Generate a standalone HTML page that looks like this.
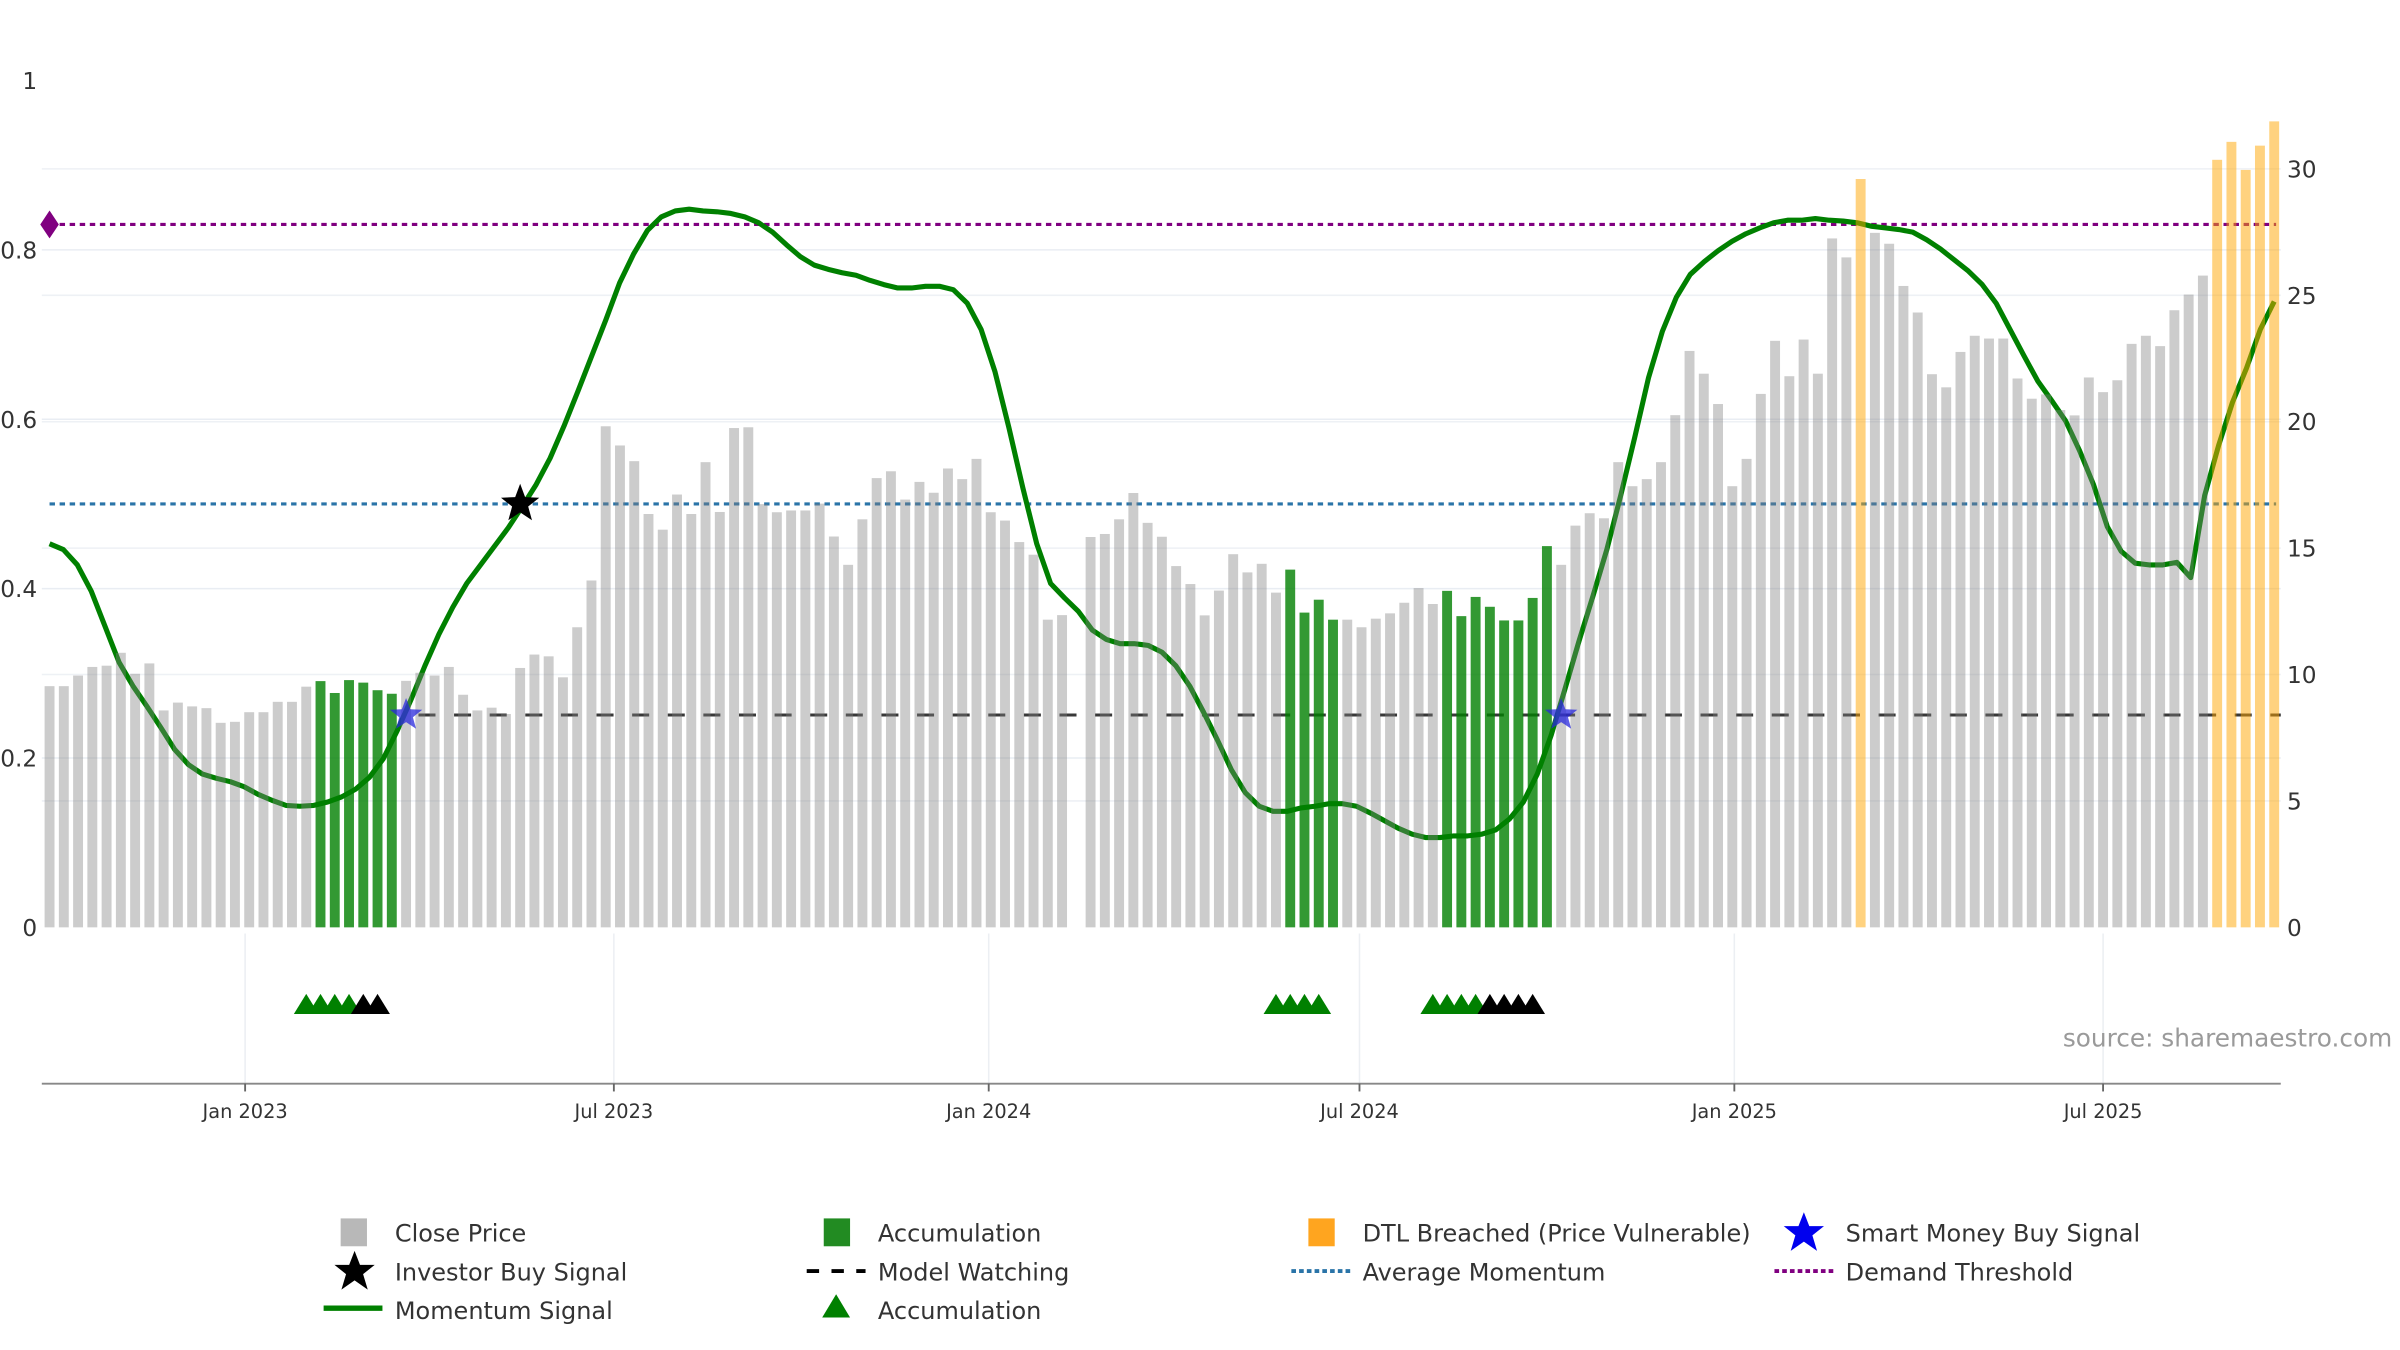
<!DOCTYPE html>
<html><head><meta charset="utf-8">
<style>
html,body{margin:0;padding:0;background:#fff;}
svg{display:block;font-family:"DejaVu Sans","Liberation Sans",sans-serif;}
</style></head>
<body>
<svg id="chart" width="2400" height="1350" viewBox="0 0 1550 872" preserveAspectRatio="none" xmlns="http://www.w3.org/2000/svg">
  <g id="grid"></g>
  <g id="lower"></g>
  <g id="lines"></g>
  <g id="momentum"></g>
  <g id="bars"></g>
  <g id="markers"></g>
  <g id="axes"></g>
  <text x="1545" y="676" text-anchor="end" font-size="16" fill="#9a9a9a">source: sharemaestro.com</text>
  <g id="legend" font-size="15.5" fill="#333">
    <rect x="220" y="787" width="17" height="18" fill="#b8b8b8"/>
    <text x="255" y="802">Close Price</text>
    <rect x="532" y="787" width="17" height="18" fill="#228b22"/>
    <text x="567" y="802">Accumulation</text>
    <rect x="845" y="787" width="17" height="18" fill="#ffa51f"/>
    <text x="880" y="802">DTL Breached (Price Vulnerable)</text>
    <path d="M1165,783 L1168.5,792 L1178,792 L1170.5,798 L1173.5,808 L1165,802 L1156.5,808 L1159.5,798 L1152,792 L1161.5,792 Z" fill="#0000ee"/>
    <text x="1192" y="802">Smart Money Buy Signal</text>
    <path d="M229,808 L232.5,817 L242,817 L234.5,823 L237.5,833 L229,827 L220.5,833 L223.5,823 L216,817 L225.5,817 Z" fill="#000"/>
    <text x="255" y="827">Investor Buy Signal</text>
    <line x1="521" y1="821" x2="559" y2="821" stroke="#000" stroke-width="2.5" stroke-dasharray="8,8"/>
    <text x="567" y="827">Model Watching</text>
    <line x1="834" y1="821" x2="872" y2="821" stroke="#2a74a8" stroke-width="2.5" stroke-dasharray="3,2"/>
    <text x="880" y="827">Average Momentum</text>
    <line x1="1146" y1="821" x2="1184" y2="821" stroke="#800080" stroke-width="2.5" stroke-dasharray="3,2"/>
    <text x="1192" y="827">Demand Threshold</text>
    <line x1="209" y1="845" x2="247" y2="845" stroke="#008000" stroke-width="3.5"/>
    <text x="255" y="852">Momentum Signal</text>
    <path d="M540,836 L549,851 L531,851 Z" fill="#008000"/>
    <text x="567" y="852">Accumulation</text>
  </g>
</svg>
<script>
const prices = [9.54,9.54,9.96,10.3,10.35,10.86,10.03,10.44,8.58,8.89,8.74,8.67,8.09,8.13,8.51,8.51,8.92,8.92,9.52,9.74,9.27,9.78,9.68,9.38,9.24,9.75,10.07,9.96,10.3,9.2,8.58,8.69,8.44,10.26,10.79,10.72,9.89,11.87,13.72,19.82,19.06,
18.44,16.35,15.73,17.12,16.35,18.4,16.43,19.75,19.78,16.74,16.42,16.49,16.49,16.76,15.46,14.34,16.14,17.77,18.04,16.92,17.62,17.19,18.15,17.73,18.53,16.42,16.09,15.24,14.74,12.17,12.35,null,15.44,15.56,16.14,17.18,16.0,15.45,14.29,13.58,12.34,
13.32,14.76,14.04,14.38,13.24,14.15,12.45,12.96,12.17,12.17,11.87,12.21,12.42,12.84,13.42,12.79,13.31,12.31,13.07,12.68,12.14,12.14,13.03,15.08,14.34,15.89,16.38,16.18,18.4,17.45,17.73,18.4,20.26,22.8,21.9,20.7,17.45,18.53,21.1,23.2,21.8,
23.25,21.9,27.25,26.5,29.6,27.47,27.04,25.37,24.32,21.88,21.36,22.76,23.4,23.29,23.29,21.71,20.91,21.08,20.46,20.25,21.75,21.17,21.64,23.08,23.4,22.99,24.41,25.03,25.78,30.36,31.07,29.96,30.92,31.88];
const accumulationWeeks = [19,20,21,22,23,24,87,88,89,90,98,99,100,101,102,103,104,105];
const dtlWeeks = [127,152,153,154,155,156];
const momentum = [.453,.446,.428,.397,.355,.313,.285,.261,.236,.210,
.192,.181,.176,.172,.166,.157,.150,.144,.143,.144,
.148,.154,.163,.177,.199,.232,.269,.309,.346,.378,
.406,.428,.450,.472,.497,.523,.554,.592,.633,.675,
.717,.761,.795,.823,.839,.846,.848,.846,.845,.843,
.839,.832,.821,.806,.792,.782,.777,.773,.770,.764,
.759,.755,.755,.757,.757,.753,.737,.706,.656,.590,
.519,.453,.406,.389,.373,.351,.340,.335,.335,.333,
.325,.309,.285,.254,.221,.186,.159,.143,.137,.137,
.141,.143,.146,.146,.143,.135,.126,.117,.110,.106,
.106,.108,.108,.110,.115,.128,.148,.181,.227,.282,
.338,.391,.446,.510,.578,.649,.704,.744,.771,.786,
.799,.810,.819,.826,.832,.835,.835,.837,.835,.834,
.832,.828,.826,.824,.821,.812,.801,.788,.775,.759,
.737,.706,.675,.645,.622,.598,.563,.523,.473,.444,
.430,.428,.428,.431,.413,.510,.569,.620,.660,.706,
.739];
const triangleWeeks = [18,19,20,21,22,23,86,87,88,89,97,98,99,100,101,102,103,104];
const triangleKinds = ['g','g','g','g','k','k','g','g','g','g','g','g','g','g','k','k','k','k'];
const smartMoneyWeeks = [25,106];
const investorWeeks = [33];
const investorLevels = [0.5];
const modelWatchingLevel = [8.4];
const averageMomentum = [0.5];
const demandThreshold = [0.83];
const xTickLabels = ['Jan 2023','Jul 2023','Jan 2024','Jul 2024','Jan 2025','Jul 2025'];
const xTickDates = ['2023-01-01','2023-07-01','2024-01-01','2024-07-01','2025-01-01','2025-07-01'];
const leftTicks = [0,0.2,0.4,0.6,0.8,1];
const rightTicks = [0,5,10,15,20,25,30];
const startDate = '2022-09-27';

const NS='http://www.w3.org/2000/svg';
const X0=32, XSTEP=9.21, PLOT_L=27, PLOT_R=1473, Y0=599;
const nWeeks = prices.length;
function xw(i){return X0+i*XSTEP;}
function xDate(s){return xw((new Date(s)-new Date(startDate))/864e5/7);}
function yL(v){return Y0-v*547;}
function yR(p){return Y0-p*16.33;}
function mk(tag,attrs,parent){const e=document.createElementNS(NS,tag);for(const k in attrs)e.setAttribute(k,attrs[k]);parent.appendChild(e);return e;}
function starPath(cx,cy,r){let d='';for(let i=0;i<10;i++){const a=-Math.PI/2+i*Math.PI/5;const rr=i%2?r*0.42:r;d+=(i?'L':'M')+(cx+rr*Math.cos(a)).toFixed(2)+','+(cy+rr*Math.sin(a)).toFixed(2);}return d+'Z';}

const grid=document.getElementById('grid');
leftTicks.forEach(v=>{if(v===0||v===1)return;const l=mk('line',{x1:PLOT_L,x2:PLOT_R,y1:yL(v),y2:yL(v),stroke:'#e9edf3','stroke-width':1},grid);

});
rightTicks.forEach(v=>{if(v===0)return;const l=mk('line',{x1:PLOT_L,x2:PLOT_R,y1:yR(v),y2:yR(v),stroke:'#eef1f5','stroke-width':1},grid);

});

const lower=document.getElementById('lower');
xTickDates.forEach(d=>{const l=mk('line',{x1:xDate(d),x2:xDate(d),y1:603,y2:700,stroke:'#eceff3','stroke-width':1},lower);

});
triangleWeeks.forEach((w,i)=>{const cx=xw(w);const t=mk('path',{d:`M${cx},${642} L${cx+8},${655} L${cx-8},${655} Z`,fill:triangleKinds[i]==='g'?'#008000':'#000'},lower);

});

const lines=document.getElementById('lines');
const mw=mk('line',{x1:xw(smartMoneyWeeks[0])+8,x2:PLOT_R,y1:yR(modelWatchingLevel[0]),y2:yR(modelWatchingLevel[0]),stroke:'#222','stroke-opacity':0.9,'stroke-width':2,'stroke-dasharray':'11,12'},lines);


const am=mk('line',{x1:X0,x2:PLOT_R-3,y1:yL(averageMomentum[0]),y2:yL(averageMomentum[0]),stroke:'#2a74a8','stroke-width':2,'stroke-dasharray':'3.5,3'},lines);


const dt=mk('line',{x1:X0,x2:PLOT_R-3,y1:yL(demandThreshold[0]),y2:yL(demandThreshold[0]),stroke:'#800080','stroke-width':2,'stroke-dasharray':'3.5,3'},lines);


const dm=mk('path',{d:`M${X0-6},${yL(demandThreshold[0])} L${X0},${yL(demandThreshold[0])-9} L${X0+6},${yL(demandThreshold[0])} L${X0},${yL(demandThreshold[0])+9} Z`,fill:'#800080'},lines);



const mg=document.getElementById('momentum');
const mstep=(nWeeks-1)/(momentum.length-1);
let d='';momentum.forEach((v,i)=>{d+=(i?'L':'M')+xw(i*mstep).toFixed(2)+','+yL(v).toFixed(2);});
const ml=mk('path',{d:d,fill:'none',stroke:'#008000','stroke-width':3.3,'stroke-linejoin':'round'},mg);



const bars=document.getElementById('bars');
prices.forEach((p,i)=>{if(p===null)return;let fill='rgba(128,128,128,0.4)',name='close-price-bar';
if(accumulationWeeks.includes(i)){fill='rgba(0,128,0,0.8)';name='accumulation-bar';}
if(dtlWeeks.includes(i)){fill='rgba(255,165,0,0.5)';name='dtl-breached-bar';}
const r=mk('rect',{x:xw(i)-3.2,y:yR(p),width:6.4,height:Y0-yR(p),fill:fill},bars);

});

const markers=document.getElementById('markers');
smartMoneyWeeks.forEach(w=>{const s=mk('path',{d:starPath(xw(w),yR(modelWatchingLevel[0]),11),fill:'rgba(40,40,220,0.75)'},markers);

});
investorWeeks.forEach((w,i)=>{const s=mk('path',{d:starPath(xw(w),yL(investorLevels[i]),13),fill:'#000'},markers);

});

const axes=document.getElementById('axes');
const ax=mk('line',{x1:PLOT_L,x2:PLOT_R,y1:700,y2:700,stroke:'#888','stroke-width':1.2},axes);


xTickDates.forEach((dd,i)=>{const x=xDate(dd);
const tk=mk('line',{x1:x,x2:x,y1:700,y2:705,stroke:'#666','stroke-width':1.2},axes);


const t=mk('text',{x:x,y:722,'text-anchor':'middle','font-size':12.5,fill:'#333'},axes);t.textContent=xTickLabels[i];

});
leftTicks.forEach(v=>{const t=mk('text',{x:24,y:yL(v)+5.5,'text-anchor':'end','font-size':15,fill:'#333'},axes);t.textContent=String(v);

});
rightTicks.forEach(v=>{const t=mk('text',{x:1477,y:yR(v)+5.5,'text-anchor':'start','font-size':15,fill:'#333'},axes);t.textContent=String(v);

});
</script>
</body></html>
